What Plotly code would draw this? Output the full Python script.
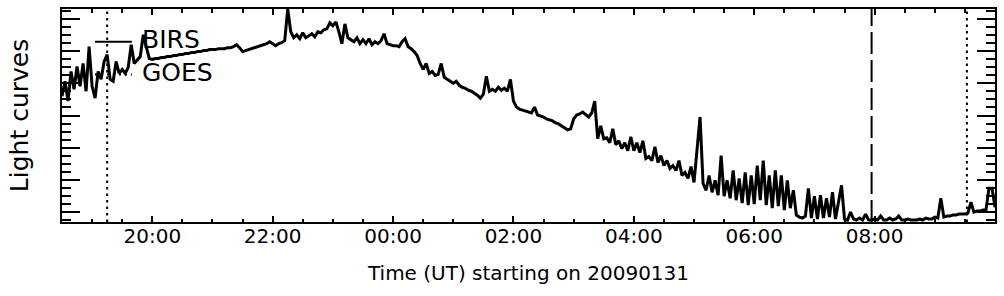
import pandas as pd
import plotly.graph_objects as go

# BIRS light curve, arbitrary flux units, one sample every 3 minutes from 18:30 UT
start_time = "2009-01-31 18:30"
cadence = "3min"
birs_flux = [
    117, 132, 112, 142, 124, 147, 127, 150, 122, 167, 127, 115, 142, 134, 152, 159, 134, 132, 152, 140,
    144, 140, 146, 169, 150, 154, 157, 179, 167, 155,
    154, 155, 155, 156, 156, 157, 157, 158, 158, 159, 159, 160, 160, 161, 161, 162, 162, 163, 163, 164,
    164, 164, 165, 165, 165, 166, 166, 167, 169, 166, 162, 163, 164, 165, 166, 167, 168, 169, 170, 172,
    170, 168, 170, 171, 173,
    205, 182, 176, 179, 175, 181, 176, 178, 180, 177, 182, 181, 184, 185, 191, 188, 192, 182, 170, 190,
    176, 174, 172, 176, 170, 174, 170, 175, 169, 172, 170, 173, 180, 170, 169, 168, 168, 167, 172, 175,
    167, 165, 162, 158, 150, 144, 150, 140, 142, 138, 139, 150, 136, 134, 132, 130, 132, 128, 126, 125,
    123, 122, 120, 118, 115, 119, 137, 122, 124, 122, 126, 123, 125, 122, 134,
    112, 106, 104, 103, 102, 101, 100, 106, 98, 97, 96, 94, 93, 92, 90, 89, 87, 85, 83, 84,
    94, 98, 99, 101, 98, 96, 100, 112, 74, 87, 74, 75, 70, 84, 68, 72, 64, 70, 62, 76,
    62, 70, 60, 72, 54, 56, 52, 66, 50, 57, 47, 52, 44, 47, 42, 52, 37, 40, 34, 46,
    30, 67, 96, 29, 22, 37, 20, 32, 17, 57, 16, 32, 14, 42, 12, 34, 9, 40, 7, 37,
    8, 47, 12, 52, 7, 37, 4, 42, 6, 37, 2, 32, 4, 22, -3, -5, -6, -4, 24, -6,
    16, -7, 17, -6, 14, -5, 20, -7, 12, 27, -7, -8, 0, -7, -8, -6, -8, -2, -8, -8,
    -7, -8, -4, -8, -8, -6, -8, -7, -4, -8, -8, -7, -8, -8, -8, -7, -8, -6, -7, -7,
    -5, -6, 14, -5, -4, -4, -3, -3, -2, -2, -2, -1, 10, 0, 1, 1, 2, 2, 24, 24,
    5,
]

# Legend entries: (label, dash style)
legend_labels = ["BIRS", "GOES"]
legend_dashes = ["solid", "2px,4px"]

# Event markers (UT)
dotted_events = ["2009-01-31 19:15", "2009-02-01 09:32"]
dashed_events = ["2009-02-01 07:57"]

x_range = ["2009-01-31 18:30", "2009-02-01 10:00"]
y_range = [-10, 205]
y_major = 32.5

times = pd.date_range(start=start_time, periods=len(birs_flux), freq=cadence)

FONT = "DejaVu Sans, Liberation Sans, Arial, sans-serif"

fig = go.Figure()
fig.add_trace(go.Scatter(x=times, y=birs_flux, mode="lines", name="BIRS",
                         line=dict(color="black", width=3), showlegend=False))

for t in dotted_events:
    fig.add_shape(type="line", xref="x", yref="paper", x0=t, x1=t, y0=0, y1=1,
                  line=dict(color="black", width=2, dash="2.5px,4px"))
for t in dashed_events:
    fig.add_shape(type="line", xref="x", yref="paper", x0=t, x1=t, y0=0, y1=1,
                  line=dict(color="black", width=2, dash="22px,6px"))

# manual legend (IDL style: short line sample followed by label)
legend_line_y = [0.8465, 0.693]
legend_text_y = [0.858, 0.700]
for lab, dash, ly, ty in zip(legend_labels, legend_dashes, legend_line_y, legend_text_y):
    fig.add_shape(type="line", xref="paper", yref="paper", x0=0.0353, x1=0.0749, y0=ly, y1=ly,
                  line=dict(color="black", width=2, dash=dash))
    fig.add_annotation(xref="paper", yref="paper", x=0.0834, y=ty, xanchor="left", yanchor="middle",
                       text=lab, showarrow=False, font=dict(size=25, family=FONT, color="black"))

fig.update_layout(
    width=1004, height=296,
    margin=dict(l=62, r=7, t=7, b=74),
    paper_bgcolor="white", plot_bgcolor="white",
    font=dict(family=FONT, color="black"),
    showlegend=False,
)
fig.update_xaxes(
    range=x_range, type="date",
    showline=True, linecolor="black", linewidth=2, mirror="allticks",
    showgrid=False, zeroline=False,
    ticks="inside", ticklen=6, tickwidth=1.5, tickcolor="black",
    tick0="2009-01-31 20:00", dtick=2 * 3600 * 1000, tickformat="%H:%M",
    tickfont=dict(size=20, family=FONT),
    ticklabelstandoff=-5,
    minor=dict(ticks="inside", ticklen=3.5, tickwidth=1.5, tickcolor="black",
               dtick=30 * 60 * 1000, showgrid=False),
    title=dict(text="Time (UT) starting on 20090131", font=dict(size=20, family=FONT), standoff=19),
)
fig.update_yaxes(
    range=y_range,
    showline=True, linecolor="black", linewidth=2, mirror="allticks",
    showgrid=False, zeroline=False, showticklabels=False,
    ticks="inside", ticklen=18, tickwidth=2, tickcolor="black",
    tick0=0, dtick=y_major,
    minor=dict(ticks="inside", ticklen=9, tickwidth=2, tickcolor="black",
               dtick=y_major / 4, showgrid=False),
    title=dict(text="Light curves", font=dict(size=25, family=FONT), standoff=24),
)

fig.write_html("out.html")
